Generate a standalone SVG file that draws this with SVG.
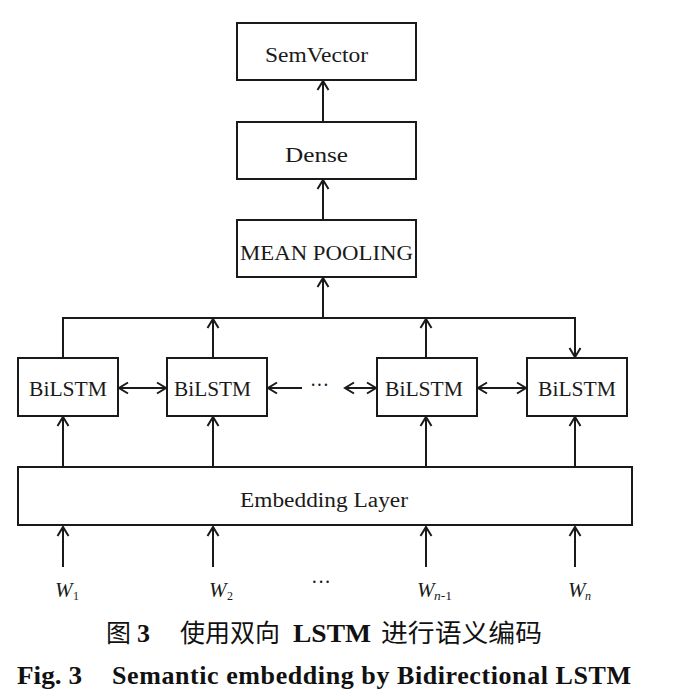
<svg xmlns="http://www.w3.org/2000/svg" width="678" height="698" viewBox="0 0 678 698">
<style>
.box{fill:#fff;stroke:#1a1a1a;stroke-width:2}
.ln{fill:none;stroke:#1a1a1a;stroke-width:2}
.t{font-family:"Liberation Serif","DejaVu Serif",serif;font-size:20px;fill:#1a1a1a}
.w{font-family:"Liberation Serif","DejaVu Serif",serif;font-size:21px;font-style:italic;fill:#1a1a1a}
.sub{font-family:"Liberation Serif","DejaVu Serif",serif;font-size:12px;fill:#1a1a1a}
.it{font-style:italic}
.cn{font-family:"Noto Sans CJK SC","Noto Sans",sans-serif;font-size:25px;fill:#111}
.cb{font-family:"Liberation Serif","Noto Sans CJK SC",serif;font-size:26px;font-weight:bold;fill:#111}
</style>
<defs>
<marker id="ah" markerUnits="userSpaceOnUse" markerWidth="14" markerHeight="14" viewBox="-11 -7 14 14" refX="0" refY="0" orient="auto-start-reverse">
<path d="M-9,-5.5 L0,0 L-9,5.5" fill="none" stroke="#1a1a1a" stroke-width="2"/>
</marker>
</defs>
<rect width="678" height="698" fill="#fff"/>
<g id="connectors">
<line class="ln" x1="323" y1="122" x2="323" y2="81" marker-end="url(#ah)"/>
<line class="ln" x1="323" y1="220" x2="323" y2="180" marker-end="url(#ah)"/>
<line class="ln" x1="323" y1="318" x2="323" y2="278" marker-end="url(#ah)"/>
<polyline class="ln" points="63,358 63,318 575,318 575,357" marker-end="url(#ah)"/>
<line class="ln" x1="213" y1="358" x2="213" y2="319" marker-end="url(#ah)"/>
<line class="ln" x1="426" y1="358" x2="426" y2="319" marker-end="url(#ah)"/>
<line class="ln" x1="119" y1="388" x2="166" y2="388" marker-start="url(#ah)" marker-end="url(#ah)"/>
<line class="ln" x1="302" y1="388" x2="268" y2="388" marker-end="url(#ah)"/>
<line class="ln" x1="345" y1="388" x2="376" y2="388" marker-start="url(#ah)" marker-end="url(#ah)"/>
<line class="ln" x1="478" y1="388" x2="526" y2="388" marker-start="url(#ah)" marker-end="url(#ah)"/>
<line class="ln" x1="63" y1="467" x2="63" y2="417" marker-end="url(#ah)"/>
<line class="ln" x1="213" y1="467" x2="213" y2="417" marker-end="url(#ah)"/>
<line class="ln" x1="426" y1="467" x2="426" y2="417" marker-end="url(#ah)"/>
<line class="ln" x1="575" y1="467" x2="575" y2="417" marker-end="url(#ah)"/>
<line class="ln" x1="63" y1="567" x2="63" y2="527" marker-end="url(#ah)"/>
<line class="ln" x1="213" y1="567" x2="213" y2="527" marker-end="url(#ah)"/>
<line class="ln" x1="426" y1="567" x2="426" y2="527" marker-end="url(#ah)"/>
<line class="ln" x1="575" y1="567" x2="575" y2="527" marker-end="url(#ah)"/>
</g>
<g id="semvector"><rect class="box" x="237" y="23" width="179" height="57"/><text class="t" x="265" y="62" textLength="103" lengthAdjust="spacingAndGlyphs">SemVector</text></g>
<g id="dense"><rect class="box" x="237" y="122" width="179" height="57"/><text class="t" x="285" y="162" textLength="63" lengthAdjust="spacingAndGlyphs">Dense</text></g>
<g id="meanpooling"><rect class="box" x="237" y="220" width="179" height="57"/><text class="t" x="240" y="260" textLength="173" lengthAdjust="spacingAndGlyphs">MEAN POOLING</text></g>
<g id="bilstm1"><rect class="box" x="18" y="358" width="100" height="58"/><text class="t" x="29" y="396" textLength="78" lengthAdjust="spacingAndGlyphs">BiLSTM</text></g>
<g id="bilstm2"><rect class="box" x="167" y="358" width="100" height="58"/><text class="t" x="174" y="396" textLength="77" lengthAdjust="spacingAndGlyphs">BiLSTM</text></g>
<g id="bilstm3"><rect class="box" x="377" y="358" width="100" height="58"/><text class="t" x="385" y="396" textLength="78" lengthAdjust="spacingAndGlyphs">BiLSTM</text></g>
<g id="bilstm4"><rect class="box" x="527" y="358" width="100" height="58"/><text class="t" x="538" y="396" textLength="78" lengthAdjust="spacingAndGlyphs">BiLSTM</text></g>
<text class="t" x="310" y="392" textLength="19" lengthAdjust="spacingAndGlyphs">···</text>
<g id="embedding"><rect class="box" x="18" y="467" width="614" height="58"/><text class="t" x="240" y="507" textLength="168" lengthAdjust="spacingAndGlyphs">Embedding Layer</text></g>
<g id="w1"><text class="w" x="55" y="597">W</text><text class="sub" x="73" y="600">1</text></g>
<g id="w2"><text class="w" x="209" y="597">W</text><text class="sub" x="227" y="600">2</text></g>
<text class="t" x="311" y="589" textLength="20" lengthAdjust="spacingAndGlyphs">···</text>
<g id="wn1"><text class="w" x="417" y="597">W</text><text class="sub" x="434" y="600" textLength="18" lengthAdjust="spacingAndGlyphs"><tspan class="it">n</tspan>-1</text></g>
<g id="wn"><text class="w" x="568" y="597">W</text><text class="sub it" x="585" y="600">n</text></g>
<g id="caption">
<text class="cn" x="106" y="642">图</text>
<text class="cb" x="137" y="642">3</text>
<text class="cn" x="180" y="642" textLength="100" lengthAdjust="spacingAndGlyphs">使用双向</text>
<text class="cb" x="293" y="642" textLength="78" lengthAdjust="spacingAndGlyphs">LSTM</text>
<text class="cn" x="381" y="642" textLength="161" lengthAdjust="spacingAndGlyphs">进行语义编码</text>
<text class="cb" x="17" y="684" textLength="65" lengthAdjust="spacingAndGlyphs">Fig. 3</text>
<text class="cb" x="112" y="684" textLength="519" lengthAdjust="spacing">Semantic embedding by Bidirectional LSTM</text>
</g>
</svg>
